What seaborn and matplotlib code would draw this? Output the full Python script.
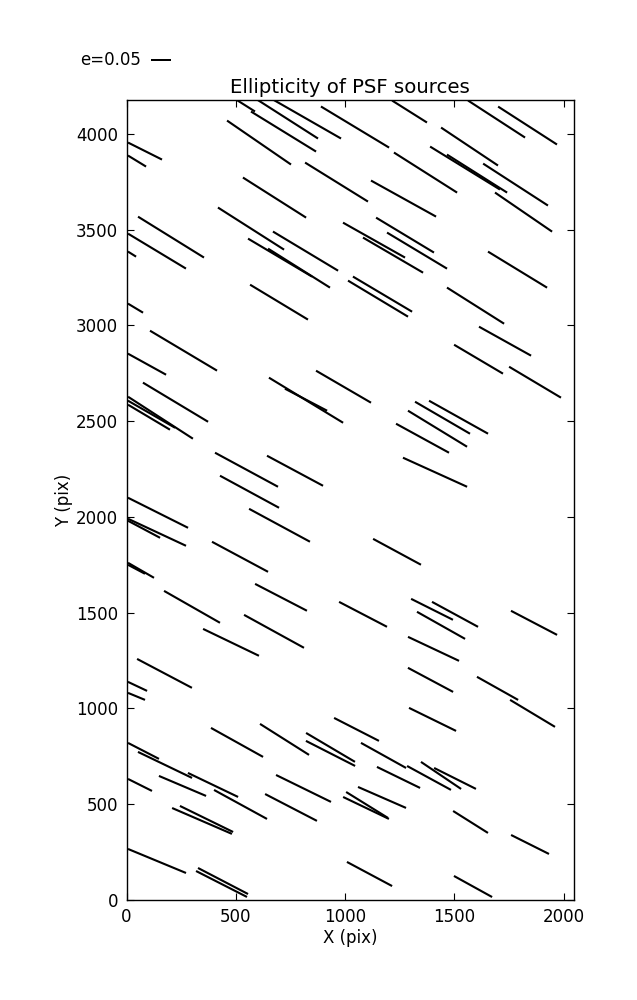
import numpy as np
import matplotlib
matplotlib.use("Agg")
import matplotlib.pyplot as plt
import seaborn as sns

# Source centres (pix), ellipticity magnitude and whisker angle (deg, on screen)
x_pix = [544.7, 718.6, 736.9, 826.1, 1045.8, 606.5, 961.2, 84.7, 48.1, 677.4,
         569.8, 819.3, 702.6, 789.5, 1132.8, 203.7, 139.6, 25.2, 698.0, 1295.3,
         1693.5, 1835.4, 1569.9, 1549.3, 1604.2, 1780.5, 1817.1, 1368.5, 1267.8, 1274.7,
         1219.8, 1329.6, 1789.6, 1171.7, 1151.1, 1597.4, 1732.4, 1611.1, 1869.7, 993.2,
         1446.3, 1519.6, 1423.4, 1354.8, 1412.0, 41.2, 260.9, 93.8, 224.3, 155.6,
         114.4, 103.0, 821.6, 821.6, 549.2, 771.2, 563.0, 144.2, 700.3, 139.6,
         80.1, 519.5, 66.4, 45.8, 299.8, 707.1, 1082.5, 675.1, 478.3, 173.9,
         50.3, 45.8, 1238.1, 1398.3, 1503.5, 1439.5, 1865.1, 1405.1, 1391.4, 1698.1,
         1858.3, 505.8, 723.2, 933.7, 933.7, 1052.7, 77.8, 176.2, 395.9, 256.3,
         61.8, 521.8, 810.1, 752.9, 1096.2, 1100.8, 345.6, 366.2, 139.6, 441.7,
         434.8, 1112.2, 1400.6, 1176.3, 1244.9, 1384.5, 1439.5, 1503.5, 1169.4, 1574.5,
         1846.8, 1585.9]
y_pix = [4148.7, 4012.8, 4078.1, 4078.1, 4036.3, 3955.3, 3748.8, 3910.8, 3858.6, 3667.8,
         3505.8, 3388.1, 3354.2, 3299.3, 3445.6, 3461.3, 3388.1, 3372.5, 3121.6, 4117.3,
         4078.1, 4044.1, 3934.4, 3822.0, 3793.2, 3735.7, 3592.0, 3798.5, 3662.6, 3471.8,
         3367.2, 3390.8, 3291.4, 3163.4, 3139.9, 3103.3, 2917.7, 2823.6, 2703.4, 2679.9,
         2517.8, 2520.5, 2460.4, 2410.7, 2233.0, 3090.2, 2868.1, 2797.5, 2598.9, 2517.8,
         2536.1, 2520.5, 2609.3, 2611.9, 2246.1, 2240.8, 2131.1, 2021.3, 1956.0, 1919.4,
         1935.1, 1791.3, 1720.7, 1726.0, 1529.9, 1579.6, 1490.7, 1401.9, 1344.4, 1182.3,
         1114.4, 1062.1, 1817.4, 1516.9, 1490.7, 1433.2, 1446.3, 1310.4, 1148.4, 1104.0,
         973.3, 821.7, 837.4, 795.6, 764.2, 889.6, 777.3, 704.1, 599.5, 594.3,
         599.5, 497.6, 581.2, 481.9, 479.3, 495.0, 411.4, 421.8, 202.3, 97.7,
         82.1, 134.3, 941.9, 753.7, 638.7, 636.1, 649.2, 633.5, 534.2, 406.1,
         288.5, 69.0]
e_mag = [0.056, 0.191, 0.181, 0.196, 0.199, 0.194, 0.185, 0.095, 0.053, 0.187,
         0.196, 0.190, 0.186, 0.183, 0.178, 0.194, 0.169, 0.024, 0.169, 0.103,
         0.170, 0.175, 0.171, 0.205, 0.178, 0.193, 0.173, 0.187, 0.186, 0.169,
         0.174, 0.175, 0.173, 0.172, 0.175, 0.169, 0.149, 0.142, 0.151, 0.159,
         0.159, 0.169, 0.173, 0.151, 0.176, 0.044, 0.195, 0.109, 0.190, 0.193,
         0.136, 0.122, 0.217, 0.119, 0.179, 0.159, 0.168, 0.168, 0.173, 0.160,
         0.091, 0.159, 0.075, 0.048, 0.161, 0.146, 0.135, 0.171, 0.155, 0.155,
         0.053, 0.046, 0.136, 0.117, 0.131, 0.138, 0.130, 0.141, 0.128, 0.118,
         0.131, 0.149, 0.145, 0.142, 0.138, 0.126, 0.087, 0.150, 0.139, 0.128,
         0.067, 0.151, 0.153, 0.146, 0.127, 0.123, 0.163, 0.148, 0.157, 0.141,
         0.143, 0.128, 0.131, 0.129, 0.120, 0.125, 0.121, 0.117, 0.131, 0.103,
         0.106, 0.109]
theta_deg = [-32.3, -31.6, -32.6, -29.8, -31.1, -34.5, -31.8, -26.6, -31.4, -32.4,
             -32.5, -31.0, -30.7, -32.2, -29.4, -31.8, -31.1, -32.0, -31.1, -32.2,
             -33.0, -32.8, -33.7, -31.6, -32.3, -32.9, -34.4, -32.4, -29.0, -31.1,
             -30.3, -31.0, -31.4, -30.7, -31.0, -32.3, -29.1, -30.6, -30.8, -30.2,
             -30.2, -29.2, -31.4, -28.7, -24.4, -31.0, -30.8, -28.9, -31.0, -32.9,
             -29.9, -30.8, -31.3, -27.6, -28.4, -28.2, -28.5, -26.6, -28.4, -25.0,
             -28.0, -28.2, -30.0, -27.9, -29.7, -27.4, -27.5, -28.8, -25.7, -27.8,
             -25.3, -22.4, -28.4, -26.6, -28.5, -29.4, -27.6, -25.2, -28.1, -29.3,
             -31.0, -29.1, -32.3, -30.6, -27.0, -27.1, -27.3, -25.7, -25.6, -23.0,
             -26.6, -28.7, -26.1, -27.4, -25.6, -31.8, -23.4, -26.1, -22.5, -27.5,
             -27.0, -28.1, -26.1, -29.1, -26.0, -28.6, -34.0, -26.6, -23.6, -32.2,
             -26.6, -28.9]

x_ticks = [0, 500, 1000, 1500, 2000]
y_ticks = [0, 500, 1000, 1500, 2000, 2500, 3000, 3500, 4000]
key_e = 0.05

sns.set_theme(style="white", rc={
    "xtick.direction": "in", "ytick.direction": "in",
    "xtick.top": True, "ytick.right": True,
    "xtick.bottom": True, "ytick.left": True,
    "xtick.major.size": 5, "ytick.major.size": 5,
    "xtick.major.width": 0.8, "ytick.major.width": 0.8,
    "axes.edgecolor": "black", "axes.linewidth": 1.0,
    "xtick.color": "black", "ytick.color": "black",
    "axes.labelcolor": "black", "text.color": "black",
})
plt.rcParams["font.family"] = ["DejaVu Sans"]

fig = plt.figure(figsize=(6.37, 10.0), dpi=100)
ax = fig.add_axes([0.1986, 0.1003, 0.7025, 0.7994])

th = np.deg2rad(np.array(theta_deg))
e = np.array(e_mag)
U = e * np.cos(th)
V = e * np.sin(th)

q = ax.quiver(np.array(x_pix), np.array(y_pix), U, V,
              angles="uv", pivot="middle", scale_units="inches", scale=0.25,
              units="dots", width=2.1, headwidth=0, headlength=0,
              headaxislength=0, color="black")

qk = ax.quiverkey(q, 0.237, 0.94, key_e, "e=0.05", labelpos="W",
                  coordinates="figure", labelsep=0.1,
                  fontproperties={"size": 12, "family": "DejaVu Sans"})

ax.set_xlim(0, 2048)
ax.set_ylim(0, 4176)
ax.set_xticks(x_ticks)
ax.set_yticks(y_ticks)
ax.tick_params(labelsize=12, pad=6)
ax.set_xlabel("X (pix)", fontsize=12, labelpad=2)
ax.set_ylabel("Y (pix)", fontsize=12, labelpad=2)
ax.set_title("Ellipticity of PSF sources", fontsize=14.2, pad=5)

fig.savefig("out.png", dpi=100)
